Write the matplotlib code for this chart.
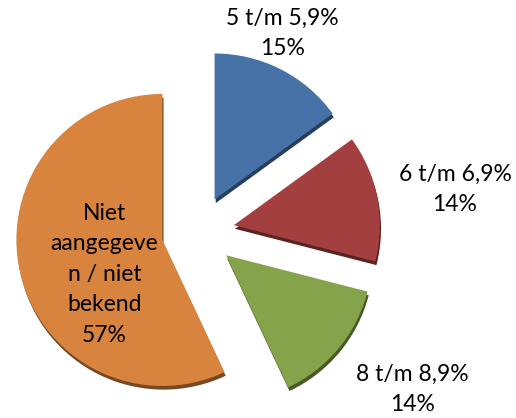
#!/usr/bin/env python3

import matplotlib.pyplot as plt
from matplotlib.colors import to_rgb

categories = ["5 t/m 5,9%", "6 t/m 6,9%", "8 t/m 8,9%", "Niet\naangegeve\nn / niet\nbekend"]
shares = [15, 14, 14, 57]

colors = ["#4672a8", "#a3403f", "#85a34a", "#d8843f"]
# label anchor points in data units (pie radius = 1)
label_xy = [(0.58, 1.36), (1.76, 0.29), (1.47, -1.08), (-0.64, -0.29)]


def darker(c, f=0.55):
    r, g, b = to_rgb(c)
    return (r * f, g * f, b * f)


def main() -> None:
    plt.rcParams["font.family"] = ["Lato", "DejaVu Sans"]
    fig = plt.figure(figsize=(5.16, 4.18), dpi=100)
    ax = fig.add_axes([0, 0, 1, 1])

    explode = [0.25] * len(shares)

    # thin darker copy underneath for a bit of 3D depth
    ax.pie(shares, explode=explode, startangle=90, counterclock=False,
           colors=[darker(c) for c in colors], center=(0.008, -0.025),
           wedgeprops=dict(linewidth=0))
    ax.pie(shares, explode=explode, startangle=90, counterclock=False,
           colors=colors, center=(0, 0), wedgeprops=dict(linewidth=0))

    for name, val, (x, y) in zip(categories, shares, label_xy):
        ax.text(x, y, f"{name}\n{val}%", ha="center", va="center",
                fontsize=16.5, color="black", linespacing=1.55)

    ax.set_xlim(-198 / 146, (516 - 198) / 146)
    ax.set_ylim(-186 / 146, (418 - 186) / 146)
    ax.set_aspect("equal")
    ax.axis("off")
    fig.savefig("out.png", dpi=100)


if __name__ == "__main__":
    main()
